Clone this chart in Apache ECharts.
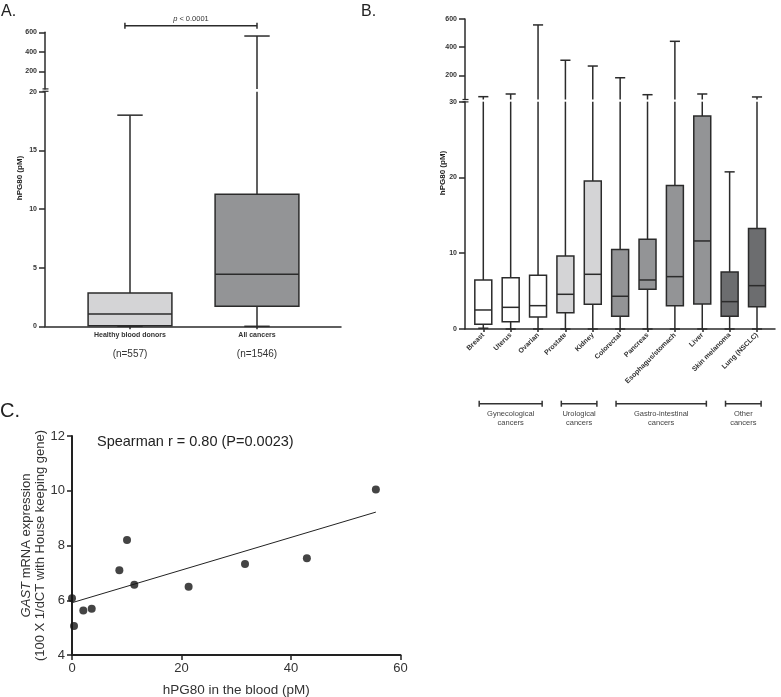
<!DOCTYPE html>
<html>
<head>
<meta charset="utf-8">
<script src="https://cdn.jsdelivr.net/npm/echarts@6/dist/echarts.min.js"></script>
<style>html,body{margin:0;padding:0;background:#fff}#c{width:781px;height:697px}</style>
</head>
<body>
<div id="c"></div>
<script>
// ---------- Panel A data ----------
const catsA = ['Healthy blood donors', 'All cancers'];
const nA = ['(n=557)', '(n=1546)'];
const minA = [0, 0];
const q1A = [0.05, 1.70];
const medA = [1.05, 4.43];
const q3A = [2.84, 11.25];
const maxA = [18.0, 562];
const breakA = 20;
const upperTicks = [200, 400, 600];
const pText = 'p < 0.0001';

// ---------- Panel B data ----------
const catsB = ['Breast','Uterus','Ovarian','Prostate','Kidney','Colorectal','Pancreas','Esophagus/stomach','Liver','Skin melanoma','Lung (NSCLC)'];
const minB = [0.1, 0, 0, 0, 0, 0, 0, 0, 0, 0, 0];
const q1B  = [0.62, 0.97, 1.59, 2.15, 3.26, 1.68, 5.24, 3.08, 3.30, 1.68, 2.95];
const medB = [2.51, 2.86, 3.08, 4.58, 7.22, 4.32, 6.47, 6.91, 11.62, 3.61, 5.72];
const q3B  = [6.47, 6.78, 7.09, 9.64, 19.55, 10.48, 11.85, 18.93, 28.1, 7.53, 13.25];
const maxB = [50, 69, 558, 308, 267, 184, 64, 442, 69, 20.74, 48];
const breakB = 30;
const groupNames = ['Gynecological', 'Urological', 'Gastro-intestinal', 'Other'];
const groupFirst = [0, 3, 5, 9];
const groupLast = [2, 4, 8, 10];

// ---------- Panel C data ----------
const hpgBlood = [0, 0.37, 2.07, 3.6, 8.65, 10.05, 11.38, 21.3, 31.6, 42.9, 55.5];
const gastExpr = [6.07, 5.06, 5.63, 5.69, 7.10, 8.20, 6.57, 6.49, 7.32, 7.53, 10.05];
const fitX = [0, 55.5];
const fitY = [5.91, 9.22];
const spearmanText = 'Spearman r = 0.80 (P=0.0023)';

// ---------- styles ----------
const fillA = ['#d4d4d6', '#939496'];
const fillB = ['#ffffff','#ffffff','#ffffff','#d4d4d6','#d4d4d6','#939496','#939496','#939496','#939496','#6c6d6f','#6c6d6f'];
const FONT = 'Arial, "Liberation Sans", Helvetica, sans-serif';
const INK = '#2b2b2b';

function boxData(mins, q1, med, q3, maxs, offset) {
  return mins.map((m, i) => [i + offset, m, q1[i], med[i], q3[i], maxs[i]]);
}

function makeBox(segment, brk, boxW, capW, fills) {
  return function (params, api) {
    const x = api.value(0), mn = api.value(1), q1 = api.value(2), md = api.value(3), q3 = api.value(4), mx = api.value(5);
    const bw = api.size([boxW, 0])[0], cw = api.size([capW, 0])[0];
    const Y = v => api.coord([x, v])[1];
    const px = api.coord([x, brk])[0];
    const ls = { stroke: INK, lineWidth: 1.5 };
    const ln = (x1, y1, x2, y2) => ({ type: 'line', shape: { x1, y1, x2, y2 }, style: ls });
    const ch = [];
    if (segment === 'lo') {
      const top = Math.min(mx, brk);
      ch.push(ln(px, Y(mn), px, Y(q1)));
      ch.push(ln(px, Y(Math.min(q3, brk)), px, Y(top)));
      if (mx <= brk) ch.push(ln(px - cw / 2, Y(mx), px + cw / 2, Y(mx)));
      ch.push(ln(px - cw / 2, Y(mn), px + cw / 2, Y(mn)));
      const yt = Y(q3), yb = Y(q1);
      ch.push({ type: 'rect', shape: { x: px - bw / 2, y: yt, width: bw, height: yb - yt },
        style: { fill: fills[params.dataIndex], stroke: INK, lineWidth: 1.5 } });
      ch.push(ln(px - bw / 2, Y(md), px + bw / 2, Y(md)));
    } else if (mx > brk) {
      ch.push(ln(px, Y(brk), px, Y(mx)));
      ch.push(ln(px - cw / 2, Y(mx), px + cw / 2, Y(mx)));
    }
    return { type: 'group', children: ch };
  };
}

const tickLbl = { fontSize: 7, fontWeight: 'bold', color: '#333', fontFamily: FONT };
const axLine = { show: true, onZero: false, lineStyle: { color: INK, width: 1.5 } };

// x ranges (layout)
const xMinA = 1 - 85 / 127, xMaxA = xMinA + 296 / 127;
const xMinB = -18.3 / 27.37, xMaxB = 10 + 18 / 27.37;

const chart = echarts.init(document.getElementById('c'), null, { renderer: 'canvas' });

const option = {
  animation: false,
  backgroundColor: '#fff',
  grid: [
    { left: 45, top: 32.3, width: 296, height: 56.8, outerBoundsMode: 'none' },   // A upper
    { left: 45, top: 91.7, width: 296, height: 234.6, outerBoundsMode: 'none' },  // A lower
    { left: 465, top: 19, width: 310, height: 80.5, outerBoundsMode: 'none' },    // B upper
    { left: 465, top: 101.7, width: 310, height: 227.3, outerBoundsMode: 'none' },// B lower
    { left: 72, top: 436, width: 328.5, height: 219, outerBoundsMode: 'none' }     // C
  ],
  xAxis: [
    { gridIndex: 0, type: 'value', min: xMinA, max: xMaxA, show: false },
    { gridIndex: 1, type: 'value', min: xMinA, max: xMaxA, axisLine: axLine, splitLine: { show: false },
      axisTick: { show: true, customValues: [1, 2], length: 3, lineStyle: { color: INK, width: 1.5 } },
      axisLabel: { customValues: [1, 2], margin: 4,
        formatter: v => '{a|' + catsA[Math.round(v) - 1] + '}\n{b|' + nA[Math.round(v) - 1] + '}',
        rich: { a: { fontSize: 7, fontWeight: 'bold', color: '#333', fontFamily: FONT, lineHeight: 10 },
                b: { fontSize: 10, color: '#333', fontFamily: FONT, lineHeight: 28 } } } },
    { gridIndex: 2, type: 'value', min: xMinB, max: xMaxB, show: false },
    { gridIndex: 3, type: 'value', min: xMinB, max: xMaxB, axisLine: axLine, splitLine: { show: false },
      axisTick: { show: true, customValues: catsB.map((c, i) => i), length: 3, lineStyle: { color: INK, width: 1.5 } },
      axisLabel: { customValues: catsB.map((c, i) => i), rotate: 45, margin: 5,
        formatter: v => catsB[Math.round(v)], fontSize: 7, fontWeight: 'bold', color: '#333', fontFamily: FONT } },
    { gridIndex: 4, type: 'value', min: 0, max: 60, interval: 20, splitLine: { show: false },
      axisLine: { show: true, onZero: false, lineStyle: { color: '#222', width: 2 } },
      axisTick: { show: true, length: 5, lineStyle: { color: '#222', width: 1.5 } },
      axisLabel: { margin: 7, fontSize: 13, color: '#333', fontFamily: FONT },
      name: 'hPG80 in the blood (pM)', nameLocation: 'middle', nameGap: 28,
      nameTextStyle: { fontSize: 13.5, color: '#333', fontFamily: FONT } }
  ],
  yAxis: [
    { gridIndex: 0, type: 'value', min: breakA, max: 600, axisLine: axLine, splitLine: { show: false },
      axisTick: { show: true, customValues: upperTicks, length: 6, lineStyle: { color: INK, width: 1.5 } },
      axisLabel: Object.assign({ customValues: upperTicks, margin: 8 }, tickLbl) },
    { gridIndex: 1, type: 'value', min: 0, max: breakA, interval: 5, axisLine: axLine, splitLine: { show: false },
      axisTick: { show: true, length: 6, lineStyle: { color: INK, width: 1.5 } },
      axisLabel: Object.assign({ margin: 8 }, tickLbl) },
    { gridIndex: 2, type: 'value', min: breakB, max: 600, axisLine: axLine, splitLine: { show: false },
      axisTick: { show: true, customValues: upperTicks, length: 6, lineStyle: { color: INK, width: 1.5 } },
      axisLabel: Object.assign({ customValues: upperTicks, margin: 8 }, tickLbl) },
    { gridIndex: 3, type: 'value', min: 0, max: breakB, interval: 10, axisLine: axLine, splitLine: { show: false },
      axisTick: { show: true, length: 6, lineStyle: { color: INK, width: 1.5 } },
      axisLabel: Object.assign({ margin: 8 }, tickLbl) },
    { gridIndex: 4, type: 'value', min: 4, max: 12, interval: 2, splitLine: { show: false },
      axisLine: { show: true, onZero: false, lineStyle: { color: '#222', width: 2 } },
      axisTick: { show: true, length: 5, lineStyle: { color: '#222', width: 1.5 } },
      axisLabel: { margin: 7, fontSize: 13, color: '#333', fontFamily: FONT },
      name: '{i|GAST}{n| mRNA expression}\n{n|(100 X 1/dCT with House keeping gene)}',
      nameLocation: 'middle', nameGap: 22,
      nameTextStyle: { rich: {
        i: { fontSize: 13, fontStyle: 'italic', color: '#333', fontFamily: FONT, lineHeight: 14 },
        n: { fontSize: 13, color: '#333', fontFamily: FONT, lineHeight: 14 } } } }
  ],
  series: [
    { type: 'custom', xAxisIndex: 1, yAxisIndex: 1, renderItem: makeBox('lo', breakA, 0.66, 0.2, fillA),
      data: boxData(minA, q1A, medA, q3A, maxA, 1), clip: false, z: 3 },
    { type: 'custom', xAxisIndex: 0, yAxisIndex: 0, renderItem: makeBox('up', breakA, 0.66, 0.2, fillA),
      data: boxData(minA, q1A, medA, q3A, maxA, 1), clip: false, z: 3 },
    { type: 'custom', xAxisIndex: 3, yAxisIndex: 3, renderItem: makeBox('lo', breakB, 0.62, 0.37, fillB),
      data: boxData(minB, q1B, medB, q3B, maxB, 0), clip: false, z: 3 },
    { type: 'custom', xAxisIndex: 2, yAxisIndex: 2, renderItem: makeBox('up', breakB, 0.62, 0.37, fillB),
      data: boxData(minB, q1B, medB, q3B, maxB, 0), clip: false, z: 3 },
    { type: 'scatter', xAxisIndex: 4, yAxisIndex: 4, symbolSize: 8,
      itemStyle: { color: '#151515' }, data: hpgBlood.map((x, i) => [x, gastExpr[i]]), z: 4 },
    { type: 'line', xAxisIndex: 4, yAxisIndex: 4, symbol: 'none',
      lineStyle: { color: '#222', width: 1 }, data: fitX.map((x, i) => [x, fitY[i]]), z: 3 }
  ]
};
chart.setOption(option);

// ---------- annotations ----------
const g = [];
const txt = (text, x, y, font, extra) => Object.assign({ type: 'text', x: x, y: y,
  style: { text: text, font: font, fill: '#222', textAlign: 'center', textVerticalAlign: 'middle' } }, extra || {});
const seg = (x1, y1, x2, y2, w, c) => ({ type: 'line', shape: { x1, y1, x2, y2 }, style: { stroke: c || INK, lineWidth: w || 1.5 } });

// panel letters
g.push({ type: 'text', x: 1, y: 12, style: { text: 'A.', font: '16px ' + FONT, fill: '#222', textVerticalAlign: 'middle' } });
g.push({ type: 'text', x: 361, y: 12, style: { text: 'B.', font: '16px ' + FONT, fill: '#222', textVerticalAlign: 'middle' } });
g.push({ type: 'text', x: 0, y: 411, style: { text: 'C.', font: '20px ' + FONT, fill: '#222', textVerticalAlign: 'middle' } });

// axis titles A/B
g.push(txt('hPG80 (pM)', 20, 178, 'bold 8px ' + FONT, { rotation: Math.PI / 2 }));
g.push(txt('hPG80 (pM)', 443, 173, 'bold 8px ' + FONT, { rotation: Math.PI / 2 }));

// axis break marks
const yBA = chart.convertToPixel({ gridIndex: 1 }, [1, breakA])[1];
g.push(seg(42.5, yBA - 2.8, 48.5, yBA - 2.8, 1.2), seg(42.5, yBA - 0.4, 48.5, yBA - 0.4, 1.2));
const yBB = chart.convertToPixel({ gridIndex: 3 }, [0, breakB])[1];
g.push(seg(462.5, yBB - 2.2, 468.5, yBB - 2.2, 1.2), seg(462.5, yBB + 0.2, 468.5, yBB + 0.2, 1.2));

// p-value bracket (A)
const pxL = chart.convertToPixel({ gridIndex: 0 }, [0.96, 600])[0];
const pxR = chart.convertToPixel({ gridIndex: 0 }, [2, 600])[0];
const yBr = 25.7;
g.push(seg(pxL, yBr, pxR, yBr, 1.5), seg(pxL, yBr - 3, pxL, yBr + 3, 1.5), seg(pxR, yBr - 3, pxR, yBr + 3, 1.5));
g.push({ type: 'text', x: (pxL + pxR) / 2, y: 18.5, style: {
  text: '{i|p}{n|' + pText.slice(1) + '}', textAlign: 'center', textVerticalAlign: 'middle',
  rich: { i: { font: 'italic 7.5px ' + FONT, fill: '#333' }, n: { font: '7.5px ' + FONT, fill: '#333' } } } });

// group brackets (B)
const yG = 403.7;
groupNames.forEach((nm, k) => {
  const x1 = chart.convertToPixel({ gridIndex: 3 }, [groupFirst[k] - 0.15, 0])[0];
  const x2 = chart.convertToPixel({ gridIndex: 3 }, [groupLast[k] + 0.15, 0])[0];
  g.push(seg(x1, yG, x2, yG, 1.5, '#333'), seg(x1, yG - 3, x1, yG + 3, 1.5, '#333'), seg(x2, yG - 3, x2, yG + 3, 1.5, '#333'));
  g.push({ type: 'text', x: (x1 + x2) / 2, y: 414, style: { text: nm, font: '7.5px ' + FONT, fill: '#444', textAlign: 'center', textVerticalAlign: 'middle' } });
  g.push({ type: 'text', x: (x1 + x2) / 2, y: 423.3, style: { text: 'cancers', font: '7.5px ' + FONT, fill: '#444', textAlign: 'center', textVerticalAlign: 'middle' } });
});

// Spearman annotation (C)
g.push({ type: 'text', x: 97, y: 441.7, style: { text: spearmanText, font: '14.5px ' + FONT, fill: '#222', textVerticalAlign: 'middle' } });

chart.setOption({ graphic: g });
</script>
</body>
</html>
